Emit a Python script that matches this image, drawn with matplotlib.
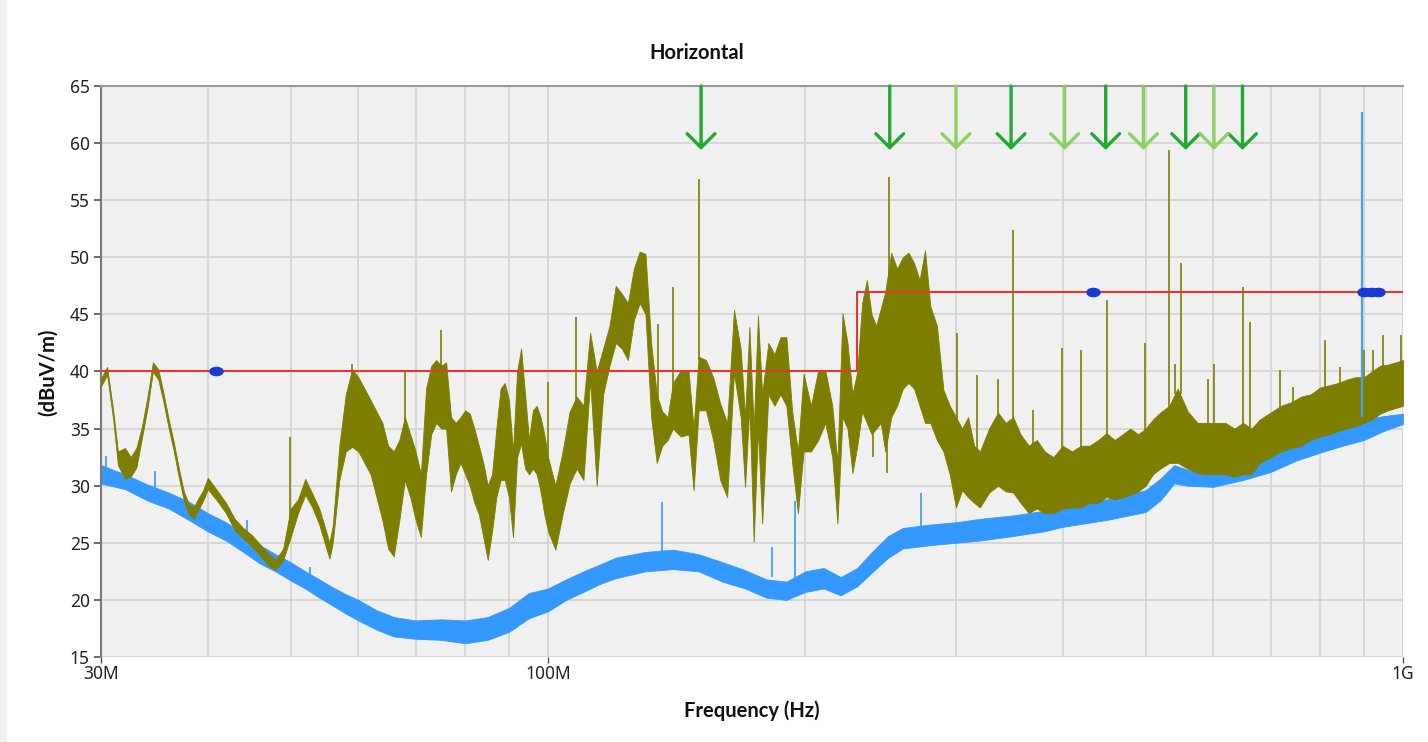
import matplotlib.pyplot as plt
from matplotlib.path import Path
from matplotlib.patches import Rectangle
from matplotlib.transforms import Affine2D
from matplotlib.ticker import FixedLocator, FixedFormatter, NullFormatter

plt.rcParams['font.family'] = ['Noto Sans', 'DejaVu Sans']

# ===== Данные (частота в МГц, уровень в dBuV/m) =====
# пиковый детектор (оливковый): нижняя и верхняя граница шумовой полосы
pk_freq = [30, 30.5, 31, 31.4, 32, 32.5, 33, 33.5, 34, 34.5, 35, 35.5, 36, 36.5, 37, 37.5,
           38, 38.5, 39, 39.5, 40, 41, 42, 43, 44, 45, 46, 47, 48, 49, 50, 51, 52, 53, 54,
           55, 55.5, 56, 57, 58, 59, 60, 61, 62, 63, 64, 65, 66, 67, 68, 69, 70, 71, 72,
           73, 74, 75, 76, 77, 78, 79, 80, 81, 82, 83, 84, 85, 86, 87, 88, 89, 90, 91, 92,
           93, 94, 95, 96, 97, 98, 99, 100, 102, 104, 106, 108, 110, 112, 114, 116, 118,
           120, 122, 124, 126, 128, 130, 132, 134, 136, 138, 140, 143, 146, 148, 150, 153,
           156, 159, 162, 165, 168, 170, 172, 174, 176, 178, 181, 184, 187, 190, 193, 196,
           199, 203, 207, 211, 215, 218, 221, 224, 227, 230, 233, 236, 239, 242, 245, 248,
           252, 256, 260, 264, 268, 272, 276, 280, 285, 290, 295, 300, 305, 310, 315, 320,
           328, 336, 343, 350, 357, 365, 373, 381, 390, 400, 410, 420, 430, 440, 450, 460,
           470, 480, 490, 500, 510, 520, 533, 545, 560, 575, 590, 605, 620, 635, 650, 665,
           680, 700, 720, 740, 760, 780, 800, 820, 840, 860, 880, 900, 920, 940, 960, 980,
           1000]
pk_lo = [38.7, 39.7, 35.8, 31.8, 30.6, 30.8, 31.6, 34.2, 36.8, 40.0, 39.3, 37.3, 35.0, 33.0,
         30.7, 28.7, 27.5, 27.1, 27.9, 28.7, 29.7, 28.7, 27.6, 26.1, 25.4, 24.7, 23.9, 23.1,
         22.6, 23.5, 25.5, 27.6, 29.2, 28.1, 26.6, 24.6, 23.6, 25.0, 30.5, 33.0, 33.4, 33.0,
         32.0, 31.0, 29.0, 27.0, 24.5, 23.8, 27.0, 30.5, 29.0, 27.0, 25.5, 31.0, 34.5, 35.5,
         35.0, 35.0, 29.5, 31.0, 32.0, 31.0, 30.0, 28.5, 27.5, 25.5, 23.5, 26.0, 29.0, 30.5,
         30.5, 29.0, 25.5, 32.5, 33.7, 31.5, 31.0, 31.5, 31.0, 29.5, 27.5, 26.0, 24.4, 27.5,
         30.2, 31.5, 30.5, 39.3, 30.0, 38.0, 40.5, 42.5, 42.0, 41.0, 44.5, 46.0, 45.0, 36.0,
         32.0, 33.5, 34.0, 35.0, 34.3, 34.5, 29.6, 36.6, 36.6, 34.0, 30.5, 29.0, 39.9, 36.0,
         29.9, 37.0, 25.1, 35.0, 26.7, 38.0, 37.0, 38.0, 37.0, 32.0, 27.6, 33.0, 33.0, 34.0,
         35.5, 32.5, 26.7, 36.0, 35.0, 31.1, 33.5, 36.5, 35.5, 34.5, 35.0, 35.5, 33.0, 36.0,
         37.0, 38.5, 39.0, 38.5, 37.0, 35.5, 35.5, 34.0, 33.0, 31.0, 28.1, 29.6, 29.0, 28.5,
         28.1, 29.4, 30.0, 29.5, 29.4, 28.5, 27.6, 28.0, 27.6, 27.6, 28.0, 28.1, 28.1, 28.5,
         28.5, 29.0, 28.8, 29.0, 29.2, 29.5, 30.0, 31.0, 31.5, 32.0, 32.0, 31.5, 31.1, 31.0,
         31.0, 31.0, 30.8, 31.0, 31.0, 32.0, 32.5, 33.0, 33.3, 33.5, 34.0, 34.3, 34.5, 34.8,
         35.0, 35.2, 35.5, 35.8, 36.3, 36.6, 36.8, 37.0]
pk_hi = [39.4, 40.4, 36.6, 33.0, 33.3, 32.5, 33.3, 35.2, 37.8, 40.8, 40.2, 38.1, 35.8, 33.8,
         31.5, 29.5, 28.4, 28.1, 28.9, 29.6, 30.7, 29.6, 28.5, 27.1, 26.3, 25.7, 24.9, 24.1,
         23.5, 24.5, 28.0, 28.8, 30.6, 29.3, 28.0, 26.0, 25.0, 26.5, 33.5, 38.0, 40.2, 39.5,
         38.5, 37.5, 36.5, 35.5, 33.5, 33.0, 34.0, 36.0, 34.5, 33.0, 31.0, 38.5, 40.5, 41.0,
         40.5, 40.8, 36.0, 35.5, 36.0, 36.6, 36.3, 35.0, 33.5, 32.0, 30.0, 31.0, 35.0, 38.5,
         39.0, 37.5, 33.0, 40.0, 42.0, 38.0, 34.0, 36.6, 37.0, 36.0, 34.5, 32.5, 30.0, 33.0,
         36.5, 37.8, 37.0, 43.4, 40.0, 42.0, 44.0, 47.5, 46.8, 46.0, 49.0, 50.5, 50.3, 42.5,
         38.0, 36.5, 36.0, 39.0, 40.1, 40.0, 35.0, 41.3, 41.0, 39.5, 37.2, 35.5, 45.4, 42.0,
         36.0, 43.9, 35.0, 44.9, 38.0, 42.5, 41.5, 43.0, 43.0, 36.5, 33.0, 39.8, 37.0, 40.1,
         40.1, 37.0, 32.0, 45.1, 42.5, 38.0, 40.0, 46.0, 48.0, 45.0, 44.0, 45.5, 47.0, 50.4,
         49.0, 50.0, 50.4, 49.5, 48.0, 50.6, 45.7, 44.0, 38.4, 37.0, 36.0, 35.0, 36.0, 33.5,
         33.0, 35.0, 36.4, 35.5, 36.0, 34.5, 33.5, 34.0, 33.0, 32.5, 33.5, 33.0, 33.5, 33.5,
         34.0, 34.6, 34.0, 34.5, 35.0, 34.5, 35.0, 35.8, 36.4, 37.0, 38.5, 36.5, 35.5, 35.5,
         35.5, 35.5, 35.0, 35.5, 35.0, 35.8, 36.4, 37.0, 37.3, 37.8, 38.0, 38.6, 38.8, 39.0,
         39.3, 39.5, 39.5, 40.0, 40.5, 40.6, 40.8, 41.0]

# одиночные выбросы пикового детектора: частота, основание, вершина
pk_spike_freq = [49.9, 59.0, 68.0, 74.9, 100, 107.8, 134.4, 140, 150, 250.6, 301, 317.6,
                 336, 350, 369, 399, 420, 450, 499, 533, 541, 550, 592, 601, 650, 662, 718,
                 744, 811, 844, 900, 922, 948, 995]
pk_spike_base = [26, 38, 35, 40, 32, 37, 37, 38, 41, 47, 35, 33, 36, 35, 33, 33, 33, 34,
                 34.5, 36.5, 38, 38, 35, 35, 35, 34.5, 36.5, 37, 38, 38.5, 39, 39.5, 40.5,
                 40.5]
pk_spike_top = [34.3, 40.7, 40.0, 43.6, 39.1, 44.8, 44.2, 47.4, 56.9, 57.0, 43.4, 39.7, 39.3,
                52.4, 36.6, 42.1, 41.9, 46.3, 42.5, 59.4, 40.7, 49.5, 39.3, 40.7, 47.4, 44.3,
                40.1, 38.6, 42.8, 40.4, 41.9, 41.9, 43.2, 43.2]
# узкие провалы вниз
pk_dip_freq = [240, 249]
pk_dip_top = [35.0, 35.5]
pk_dip_bottom = [32.5, 31.1]

# средний детектор (голубой)
av_freq = [30, 32, 34, 36, 38, 40, 42, 44, 46, 48, 50, 52, 54, 56, 58, 60, 63, 66, 70, 75,
           80, 85, 90, 95, 100, 105, 110, 115, 120, 130, 140, 150, 160, 170, 180, 190, 200,
           210, 220, 230, 240, 250, 260, 280, 300, 320, 350, 380, 400, 450, 500, 520, 540,
           560, 600, 650, 700, 750, 800, 850, 900, 950, 1000]
av_lo = [30.2, 29.7, 28.7, 28.0, 27.0, 26.0, 25.2, 24.2, 23.2, 22.5, 21.7, 21.0, 20.2, 19.5,
         18.8, 18.2, 17.4, 16.8, 16.6, 16.5, 16.2, 16.5, 17.2, 18.4, 19.0, 20.0, 20.7, 21.4,
         21.9, 22.5, 22.7, 22.5, 21.6, 21.0, 20.2, 20.0, 20.7, 21.0, 20.4, 21.2, 22.5, 23.7,
         24.5, 24.8, 25.0, 25.2, 25.6, 26.0, 26.4, 27.0, 27.7, 28.7, 30.2, 30.0, 29.9, 30.5,
         31.2, 32.2, 32.9, 33.5, 34.0, 34.8, 35.4]
av_hi = [31.8, 31.0, 30.1, 29.4, 28.6, 27.6, 26.8, 25.8, 24.8, 24.0, 23.3, 22.5, 21.8, 21.1,
         20.5, 20.0, 19.1, 18.5, 18.2, 18.3, 18.2, 18.5, 19.3, 20.6, 21.0, 21.8, 22.5, 23.1,
         23.7, 24.2, 24.4, 24.0, 23.3, 22.6, 21.8, 21.6, 22.5, 22.8, 22.0, 22.8, 24.3, 25.6,
         26.3, 26.6, 26.8, 27.1, 27.4, 27.8, 28.3, 28.8, 29.6, 30.6, 31.8, 31.4, 31.3, 32.3,
         33.1, 34.0, 34.6, 35.2, 35.8, 36.1, 36.3]
av_spike_freq = [30.4, 34.7, 44.5, 52.7, 136, 183, 194.5, 273, 896]
av_spike_base = [31.5, 29.5, 25.5, 21.5, 24, 22, 21.5, 26.5, 36]
av_spike_top = [32.6, 31.3, 27.0, 22.9, 28.6, 24.6, 28.7, 29.4, 62.7]

# линия норматива
limit_freq = [30, 230, 230, 1000]
limit_level = [40, 40, 47, 47]

# маркеры на линии норматива
marker_freq = [40.9, 434, 900, 918, 935]
marker_level = [40, 47, 47, 47, 47]

# стрелки над графиком
arrow_dark = [151, 251, 348, 449, 557, 649]
arrow_light = [300, 402, 497, 601]

# ===== Оформление =====
W, H = 1428, 742
fig = plt.figure(figsize=(W / 100, H / 100), dpi=100)
fig.patches.append(Rectangle((0, 0), 6 / W, 1, transform=fig.transFigure,
                             color='#f0f0f0', zorder=0))

ax = fig.add_axes([101 / W, 1 - 657 / H, (1403 - 101) / W, (657 - 86) / H])
ax.set_facecolor('#f0f0f0')
ax.set_xscale('log')
ax.set_xlim(30, 1000)
ax.set_ylim(15, 65)

olive = '#7d7d00'
blue = '#3399ff'

ax.fill_between(av_freq, av_lo, av_hi, color=blue, lw=0.6, zorder=2)
ax.vlines(av_spike_freq[:-1], av_spike_base[:-1], av_spike_top[:-1], color=blue, lw=1.2,
          zorder=2)

ax.vlines(pk_spike_freq, pk_spike_base, pk_spike_top, color='#8e8e20', lw=1.4, zorder=2.9)
ax.vlines(pk_dip_freq, pk_dip_bottom, pk_dip_top, color='#8e8e20', lw=1.4, zorder=2.9)
ax.fill_between(pk_freq, pk_lo, pk_hi, color=olive, lw=0.6, zorder=3)

ax.plot(limit_freq, limit_level, color='#e03a30', lw=1.5, zorder=4)
ax.vlines(av_spike_freq[-1], av_spike_base[-1], av_spike_top[-1], color='#4a9ff0', lw=1.6,
          zorder=5)

pill = Path.unit_circle().transformed(Affine2D().scale(1, 0.62))
ax.plot(marker_freq, marker_level, ls='none', marker=pill, ms=9.5, color='#1a3ad8',
        zorder=6)

for freqs, col in ((arrow_dark, '#1faa30'), (arrow_light, '#8fd160')):
    for f in freqs:
        ax.annotate('', xy=(f, 59.4), xytext=(f, 65),
                    arrowprops=dict(arrowstyle='->,head_length=0.5,head_width=0.5',
                                    color=col, lw=2.4, shrinkA=0, shrinkB=0,
                                    mutation_scale=20),
                    zorder=6)

# оси и сетка
ax.yaxis.set_major_locator(FixedLocator(range(15, 66, 5)))
ax.xaxis.set_major_locator(FixedLocator([30, 100, 1000]))
ax.xaxis.set_major_formatter(FixedFormatter(['30M', '100M', '1G']))
ax.xaxis.set_minor_locator(FixedLocator([40, 50, 60, 70, 80, 90, 200, 300, 400, 500,
                                         600, 700, 800, 900]))
ax.xaxis.set_minor_formatter(NullFormatter())
ax.grid(True, which='both', color='#d3d3d3', lw=1.2, zorder=1)
ax.set_axisbelow(True)

ax.tick_params(axis='y', direction='out', length=5, width=1.2, color='#505050',
               labelsize=12.5, pad=3, labelcolor='#222222')
ax.tick_params(axis='x', which='major', direction='out', length=4, width=1,
               color='#505050', labelsize=12.5, pad=2, labelcolor='#222222')
ax.tick_params(axis='x', which='minor', length=0)

for s in ('right', 'bottom'):
    ax.spines[s].set_visible(False)
ax.spines['left'].set_color('#7a7a7a')
ax.spines['left'].set_linewidth(1.5)
ax.spines['top'].set_color('#9a9a9a')
ax.spines['top'].set_linewidth(1.5)

bold = dict(family=['Lato', 'DejaVu Sans'], fontsize=14.5, fontweight='bold',
            color='#111111', ha='center', va='center')
fig.text(697 / W, 1 - 53 / H, 'Horizontal', **bold)
fig.text(752 / W, 1 - 711 / H, 'Frequency (Hz)', **bold)
fig.text(48 / W, 1 - 372 / H, '(dBuV/m)', rotation=90, **bold)

plt.savefig('out.png', dpi=100)
